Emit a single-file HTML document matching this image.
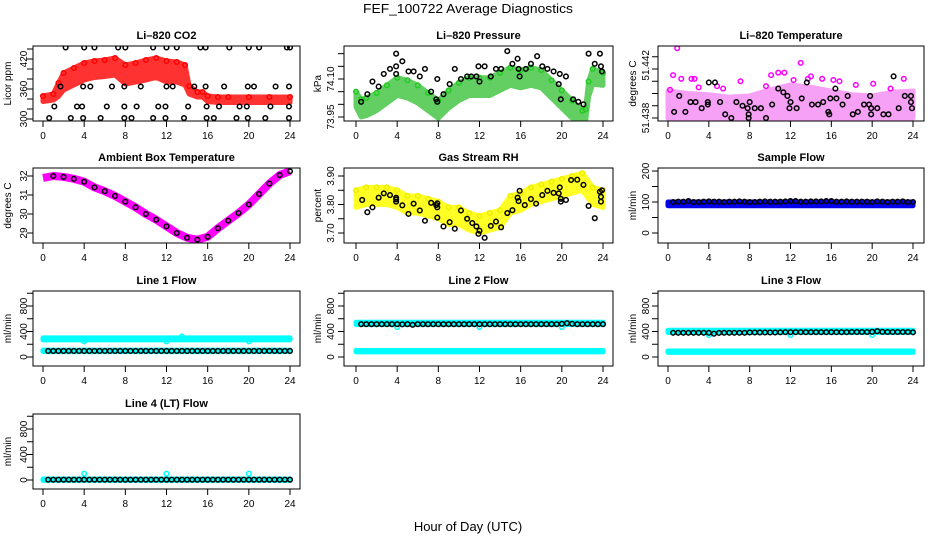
<!DOCTYPE html>
<html><head><meta charset="utf-8"><style>
html,body{margin:0;padding:0;background:#fff;}
svg{display:block;font-family:"Liberation Sans",sans-serif;}
</style></head><body>
<svg id="chart" width="936" height="540" viewBox="0 0 936 540" xmlns="http://www.w3.org/2000/svg">
<rect x="0" y="0" width="936" height="540" fill="#fff"/>
<text x="468" y="13" text-anchor="middle" font-size="13" textLength="210" lengthAdjust="spacingAndGlyphs">FEF_100722  Average Diagnostics</text>
<text x="468" y="531" text-anchor="middle" font-size="13">Hour of Day (UTC)</text>
</svg>
<script>
// ---------- data ----------
const xTicks = [0,4,8,12,16,20,24];
const flowX = [0.5,1,1.5,2,2.5,3,3.5,4,4.5,5,5.5,6,6.5,7,7.5,8,8.5,9,9.5,10,10.5,11,11.5,12,12.5,13,13.5,14,14.5,15,15.5,16,16.5,17,17.5,18,18.5,19,19.5,20,20.5,21,21.5,22,22.5,23,23.5,24];

// CO2
const co2BandX = [0,1,1.5,2,3,4,5,6,7,8,9,10,11,12,13,13.8,14.2,15,15.5,16,17,18,20,22,24];
const co2Lo = [335,338,345,358,368,378,383,385,388,370,374,378,383,374,374,368,350,344,344,335,333,333,333,333,333];
const co2Hi = [346,350,372,392,402,412,416,418,422,408,412,418,422,416,414,408,366,354,354,346,344,344,344,344,344];
const co2BlackX = [2.2,4,5,7.3,8.0,10.7,12,13,15.3,15.8,18.1,20,21,23.7,24, 1.7,3.9,4.6,6.7,7.9,9.5,12,12.6,14.7,15.8,17.6,19.9,20.5,22.6,23.9, 1.1,3.3,3.8,6.2,7.9,9.1,11.2,11.9,14.1,15.9,17.1,19.1,19.8,22.1,23.9, 0.6,2.7,3.9,5.6,7.9,8.6,10.7,11.9,13.7,15.9,16.6,18.8,19.9,21.6,23.9];
const co2BlackY = [443,443,443,443,443,443,443,443,443,443,443,443,443,443,443, 365,365,365,365,365,365,365,365,365,365,365,365,365,365,365, 325,325,325,325,325,325,325,325,325,325,325,325,325,325,325, 302,302,302,302,302,302,302,302,302,302,302,302,302,302,302];

// Pressure
const presBandX = [0,0.5,1,2,3,4,5,6,7,8,9,10,11,12,13,14,15,16,17,18,19,20,21,22,22.3,22.6,23,24];
const presLo = [73.99,73.95,73.955,73.975,74.005,74.035,74.025,74.005,73.975,73.945,73.985,74.015,74.035,74.035,74.035,74.055,74.075,74.065,74.075,74.065,74.025,73.985,73.945,73.925,73.93,74.03,74.08,74.075];
const presHi = [74.05,74.02,74.025,74.045,74.075,74.105,74.095,74.075,74.045,74.015,74.055,74.085,74.105,74.105,74.105,74.125,74.145,74.135,74.145,74.135,74.095,74.055,74.015,73.975,73.98,74.09,74.14,74.125];
const presBlackX = [0.5,1.1,1.6,2.2,2.7,3.3,3.9,3.9,3.9,4.5,5.1,5.6,6.2,6.7,7.3,7.8,7.9,7.9,8.5,9.1,9.6,10.2,10.8,11.2,11.7,11.9,12,12.5,13.1,13.6,14.1,14.7,15.2,15.7,15.8,15.9,16.5,17,17.6,18.1,18.6,19.2,19.7,19.8,19.9,20.4,21.1,21.6,22.1,22.6,23.2,23.7,23.8,23.9];
const presBlackY = [74.01,74.04,74.09,74.07,74.12,74.14,74.15,74.20,74.12,74.17,74.13,74.13,74.11,74.14,74.05,74.02,74.10,74.01,74.04,74.08,74.14,74.10,74.11,74.11,74.11,74.15,74.09,74.15,74.11,74.14,74.14,74.21,74.16,74.18,74.14,74.11,74.14,74.16,74.19,74.15,74.14,74.13,74.08,74.12,74.02,74.11,74.02,74.01,74.00,74.20,74.16,74.20,74.15,74.13];

// Li-820 temperature
const ltBandX = [0,2,4,6,8,10,12,14,16,18,20,22,24];
const ltLo = [51.4380,51.4379,51.4380,51.4379,51.4378,51.4379,51.4379,51.4380,51.4379,51.4380,51.4378,51.4379,51.4380];
const ltHi = [51.4402,51.4400,51.4399,51.4397,51.4398,51.4403,51.4407,51.4405,51.4402,51.4399,51.4398,51.4401,51.4402];
const ltPinkX = [0.9,0.5,1.3,2.3,2.6,7.1,10.1,10.8,11.4,13,13.7,15.1,16.2,16.8,14,20.1,23.1,0.2,4.8,21.8,9.6,12.3,18.4,5.4,3.0];
const ltPinkY = [51.4437,51.4415,51.4412,51.4412,51.4412,51.4410,51.4415,51.4417,51.4417,51.4425,51.4412,51.4412,51.4411,51.4410,51.4414,51.4408,51.4412,51.4403,51.4406,51.4404,51.4406,51.4411,51.4407,51.4404,51.4405];
const ltBlackX = [0.6,1.1,1.7,2.2,2.7,3.3,3.9,3.9,4.0,4.6,5.1,5.6,6.2,6.7,7.3,7.8,7.9,7.9,8.0,8.5,9.1,9.6,10.2,10.8,11.3,11.7,11.9,12,12.6,13.1,13.6,14.1,14.7,15.2,15.7,15.8,15.9,16.4,16.5,17.1,17.6,18.1,18.6,19.2,19.7,19.8,19.9,19.9,20.5,21.1,21.6,22.1,22.6,23.2,23.8,23.8,23.9];
const ltBlackY = [51.4385,51.4398,51.4385,51.4393,51.4393,51.4388,51.4391,51.4393,51.4409,51.4409,51.4393,51.4383,51.4380,51.4393,51.4390,51.4388,51.4383,51.4380,51.4393,51.4388,51.4388,51.4380,51.4391,51.4404,51.4401,51.4398,51.4388,51.4393,51.4388,51.4396,51.4409,51.4391,51.4391,51.4393,51.4385,51.4383,51.4396,51.4404,51.4396,51.4391,51.4398,51.4383,51.4385,51.4391,51.4391,51.4398,51.4388,51.4383,51.4388,51.4383,51.4383,51.4414,51.4388,51.4398,51.4398,51.4393,51.4388];

// Ambient box temperature
const ambX = [0,1,2,3,4,5,6,7,8,9,10,11,12,13,14,15,16,17,18,19,20,21,22,23,24];
const ambY = [31.9,32.0,31.95,31.85,31.7,31.4,31.2,30.95,30.65,30.35,30.0,29.7,29.35,29.0,28.75,28.65,28.8,29.25,29.65,30.05,30.5,31.05,31.6,32.05,32.25];

// Gas stream RH
const rhBandX = [0,1,2,3,4,5,6,7,8,9,10,11,12,13,14,15,16,17,18,19,20,21,22,23,24];
const rhLo = [3.79,3.80,3.80,3.80,3.79,3.77,3.77,3.76,3.75,3.73,3.73,3.71,3.70,3.71,3.72,3.77,3.78,3.80,3.81,3.82,3.83,3.84,3.85,3.80,3.79];
const rhHi = [3.85,3.86,3.86,3.86,3.85,3.83,3.83,3.82,3.81,3.79,3.79,3.77,3.76,3.77,3.78,3.83,3.84,3.86,3.87,3.88,3.89,3.90,3.91,3.86,3.85];
const rhBlackX = [0.6,1.1,1.6,2.2,2.7,3.3,3.9,3.9,3.9,4.5,5.1,5.6,6.2,6.7,7.3,7.8,7.9,7.9,7.9,8.5,9.1,9.6,10.2,10.8,11.3,11.7,11.9,12,12.5,13.1,13.6,14.1,14.7,15.2,15.7,15.8,15.9,16.4,17,17.5,18.1,18.6,19.2,19.7,19.8,19.9,19.9,20.4,20.9,21.5,22.1,22.6,23.2,23.7,23.8,23.9,23.8];
const rhBlackY = [3.816,3.773,3.790,3.824,3.839,3.833,3.824,3.810,3.818,3.797,3.767,3.803,3.779,3.743,3.806,3.798,3.790,3.804,3.754,3.723,3.738,3.715,3.779,3.750,3.735,3.723,3.697,3.708,3.683,3.725,3.740,3.720,3.770,3.780,3.824,3.812,3.848,3.798,3.819,3.803,3.833,3.848,3.841,3.839,3.860,3.810,3.820,3.816,3.886,3.887,3.869,3.795,3.752,3.845,3.827,3.850,3.810];

// Sample flow
const sfBandX = [0,24];
const sfLo = [88,88];
const sfHi = [100,100];
const sfBlackY = [100,101,101,103,100,100,101,102,101,101,100,101,101,102,101,100,100,101,102,101,101,101,102,103,103,101,101,102,102,102,103,103,101,101,102,101,101,101,101,100,102,101,100,101,101,102,100,100];

// Line 1
const l1BandX = [0,24];
const l1HiLo = [268,268];
const l1HiHi = [300,300];
const l1LoLo = [85,85];
const l1LoHi = [108,108];
const l1OutX = [4,12,20,13.5];
const l1OutY = [245,245,245,320];
const l1BlackY = [95,95,95,95,95,95,95,95,95,95,95,95,95,95,95,95,95,95,95,95,95,95,95,95,95,95,95,95,95,95,95,95,95,95,95,95,95,95,95,95,95,95,95,95,95,95,95,95];

// Line 2
const l2HiLo = [510,510];
const l2HiHi = [545,545];
const l2LoLo = [80,80];
const l2LoHi = [102,102];
const l2OutX = [4,12,20];
const l2OutY = [470,470,470];
const l2BlackY = [515,515,515,515,515,515,515,515,512,515,505,515,515,515,515,515,515,515,515,515,515,515,515,515,515,515,515,515,515,515,515,515,515,515,515,515,515,515,515,520,530,520,515,515,515,515,515,515];

// Line 3
const l3HiLo = [385,385];
const l3HiHi = [420,420];
const l3LoLo = [72,72];
const l3LoHi = [95,95];
const l3OutX = [4,12,20];
const l3OutY = [345,345,345];
const l3BlackY = [380,380,380,380,380,380,380,380,365,378,380,380,380,380,380,385,385,385,385,385,385,388,390,390,390,390,390,390,390,390,390,390,390,390,390,392,392,392,392,395,405,395,392,392,392,392,392,388];

// Line 4
const l4HiLo = [-5,-5];
const l4HiHi = [15,15];
const l4OutX = [4,12,20];
const l4OutY = [100,100,100];
const l4BlackY = [5,5,5,5,5,5,5,5,5,5,5,5,5,5,5,5,5,5,5,5,5,5,5,5,5,5,5,5,5,5,5,5,5,5,5,5,5,5,5,5,5,5,5,5,5,5,5,5];

// ---------- drawing ----------
const NS = "http://www.w3.org/2000/svg";
const svg = document.getElementById("chart");
function mk(tag, attrs, parent){ const e=document.createElementNS(NS,tag); for(const k in attrs) e.setAttribute(k,attrs[k]); (parent||svg).appendChild(e); return e; }

const cols = [{bx0:33,bx1:300,x0:43,x1:290,yl:11,tl:27},{bx0:344,bx1:613,x0:356,x1:603,yl:321,tl:334},{bx0:658,bx1:924,x0:668,x1:913,yl:636,tl:649}];
const rows = [46,168,291,414];
const H = 75;

function makePanel(name, title, ci, ri, v1, p1, v2, p2, yTicks, yLabels, yTitle){
  const c = cols[ci], top = rows[ri], bot = top+H;
  const g = mk("g",{});
  
  
  const sx = h => c.x0 + (c.x1-c.x0)*h/24;
  const sy = v => p1 + (v-v1)*(p2-p1)/(v2-v1);
  const cp = mk("clipPath",{id:"clip-"+name},g);
  mk("rect",{x:c.bx0,y:top,width:c.bx1-c.bx0,height:H},cp);
  const data = mk("g",{"clip-path":"url(#clip-"+name+")"},g);
  const box = mk("rect",{x:c.bx0,y:top,width:c.bx1-c.bx0,height:H,fill:"none",stroke:"#000","stroke-width":1},g);
  
  
  const t = mk("text",{x:(c.bx0+c.bx1)/2,y:top-7,"text-anchor":"middle","font-size":11,"font-weight":"bold"},g);
  t.textContent = title;
  
  
  xTicks.forEach(h=>{
    mk("line",{x1:sx(h),x2:sx(h),y1:bot,y2:bot+6,stroke:"#000"},g);
    const tl = mk("text",{x:sx(h),y:bot+18,"text-anchor":"middle","font-size":10},g);
    tl.textContent = h;
    
    
  });
  mk("line",{x1:c.bx0,x2:c.bx0,y1:sy(yTicks[0]),y2:sy(yTicks[yTicks.length-1]),stroke:"#000"},g);
  yTicks.forEach(v=>{ mk("line",{x1:c.bx0-6,x2:c.bx0,y1:sy(v),y2:sy(v),stroke:"#000"},g); });
  yLabels.forEach(l=>{
    const y = sy(l[0]);
    const tl = mk("text",{x:c.tl,y:y,"text-anchor":"middle","font-size":10,transform:"rotate(-90 "+c.tl+" "+y+")"},g);
    tl.textContent = l[1];
    
    
  });
  const ym = (top+bot)/2;
  const yt = mk("text",{x:c.yl,y:ym,"text-anchor":"middle","font-size":10,transform:"rotate(-90 "+c.yl+" "+ym+")"},g);
  yt.textContent = yTitle;
  
  
  return {sx, sy, data};
}
function band(p, name, xs, lo, hi, color, op){
  let pts = xs.map((x,i)=>p.sx(x)+","+p.sy(hi[i]));
  for(let i=xs.length-1;i>=0;i--) pts.push(p.sx(xs[i])+","+p.sy(lo[i]));
  const pg = mk("polygon",{points:pts.join(" "),fill:color,stroke:color,"stroke-width":5,"stroke-linejoin":"round",opacity:(op||1)},p.data);
  
  
}
function dots(p, name, xs, ys, color){
  xs.forEach((x,i)=>{
    const c = mk("circle",{cx:p.sx(x),cy:p.sy(ys[i]),r:2.3,fill:"none",stroke:color,"stroke-width":1.5},p.data);
    
    
  });
}

// CO2
let p = makePanel("co2","Li\u2013820 CO2",0,0,300,119,420,59,[300,320,340,360,380,400,420,440],[[300,"300"],[360,"360"],[420,"420"]],"Licor ppm");
band(p,"co2-band",co2BandX,co2Lo,co2Hi,"#ff0000",0.8);
dots(p,"co2-red-point",co2BandX,co2Hi,"#ff0000");
dots(p,"co2-black-point",co2BlackX,co2BlackY,"#000");

// Pressure
p = makePanel("pressure","Li\u2013820 Pressure",1,0,73.95,117,74.10,79,[73.95,74.00,74.05,74.10,74.15,74.20],[[73.95,"73.95"],[74.10,"74.10"]],"kPa");
band(p,"pressure-band",presBandX,presLo,presHi,"#22bb22",0.7);
dots(p,"pressure-green-point",presBandX,presHi,"#22cc22");
dots(p,"pressure-black-point",presBlackX,presBlackY,"#000");

// Li temp
p = makePanel("li820-temp","Li\u2013820 Temperature",2,0,51.438,118,51.442,69,[51.438,51.439,51.440,51.441,51.442,51.443],[[51.438,"51.438"],[51.4423,"51.442"]],"degrees C");
band(p,"li820-temp-band",ltBandX,ltLo,ltHi,"#ee44ee",0.5);
dots(p,"li820-temp-pink-point",ltPinkX,ltPinkY,"#ff00ff");
dots(p,"li820-temp-black-point",ltBlackX,ltBlackY,"#000");

// Ambient
p = makePanel("ambient","Ambient Box Temperature",0,1,32,176,29,233,[29,30,31,32],[[29,"29"],[30,"30"],[31,"31"],[32,"32"]],"degrees C");
(function(){ const pl = mk("polyline",{points:ambX.map((x,i)=>p.sx(x)+","+p.sy(ambY[i])).join(" "),fill:"none",stroke:"#ff00ff","stroke-width":8,"stroke-linejoin":"round"},p.data);

 })();
dots(p,"ambient-black-point",ambX.slice(1),ambY.slice(1),"#000");

// RH
p = makePanel("rh","Gas Stream RH",1,1,3.90,176,3.70,233,[3.70,3.75,3.80,3.85,3.90],[[3.70,"3.70"],[3.80,"3.80"],[3.90,"3.90"]],"percent");
band(p,"rh-band",rhBandX,rhLo,rhHi,"#ffff00",0.85);
dots(p,"rh-yellow-point",rhBandX,rhHi,"#eeee00");
dots(p,"rh-black-point",rhBlackX,rhBlackY,"#000");

// Sample flow
p = makePanel("sample-flow","Sample Flow",2,1,0,233,200,171,[0,50,100,150,200],[[0,"0"],[100,"100"],[200,"200"]],"ml/min");
band(p,"sample-flow-band",sfBandX,sfLo,sfHi,"#0000ee");
dots(p,"sample-flow-black-point",flowX,sfBlackY,"#000");

const fTicks=[0,200,400,600,800,1000], fLabels=[[0,"0"],[400,"400"],[800,"800"]];
p = makePanel("line1","Line 1 Flow",0,2,0,357,800,306,fTicks,fLabels,"ml/min");
band(p,"line1-high-band",l1BandX,l1HiLo,l1HiHi,"#00ffff");
band(p,"line1-low-band",l1BandX,l1LoLo,l1LoHi,"#00ffff");
dots(p,"line1-cyan-outlier",l1OutX,l1OutY,"#00ffff");
dots(p,"line1-black-point",flowX,l1BlackY,"#000");
p = makePanel("line2","Line 2 Flow",1,2,0,357,800,306,fTicks,fLabels,"ml/min");
band(p,"line2-high-band",l1BandX,l2HiLo,l2HiHi,"#00ffff");
band(p,"line2-low-band",l1BandX,l2LoLo,l2LoHi,"#00ffff");
dots(p,"line2-cyan-outlier",l2OutX,l2OutY,"#00ffff");
dots(p,"line2-black-point",flowX,l2BlackY,"#000");
p = makePanel("line3","Line 3 Flow",2,2,0,357,800,306,fTicks,fLabels,"ml/min");
band(p,"line3-high-band",l1BandX,l3HiLo,l3HiHi,"#00ffff");
band(p,"line3-low-band",l1BandX,l3LoLo,l3LoHi,"#00ffff");
dots(p,"line3-cyan-outlier",l3OutX,l3OutY,"#00ffff");
dots(p,"line3-black-point",flowX,l3BlackY,"#000");
p = makePanel("line4","Line 4 (LT) Flow",0,3,0,480,800,429,fTicks,fLabels,"ml/min");
band(p,"line4-band",l1BandX,l4HiLo,l4HiHi,"#00ffff");
dots(p,"line4-cyan-outlier",l4OutX,l4OutY,"#00ffff");
dots(p,"line4-black-point",flowX,l4BlackY,"#000");
</script>
</body></html>
